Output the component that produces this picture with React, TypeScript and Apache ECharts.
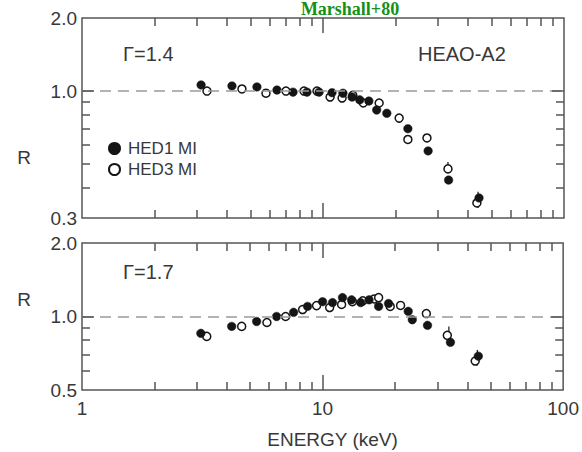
import React, { useEffect, useRef } from "react";
import * as echarts from "echarts";

// ---- data (energy keV, ratio R) ----
const hed1Top: number[][] = [
  [3.12, 1.06], [4.19, 1.05], [5.32, 1.04], [6.44, 1.01], [7.51, 0.99], [8.58, 0.99],
  [9.63, 0.99], [10.9, 0.985], [12.1, 0.98], [13.2, 0.945], [14.2, 0.92], [15.5, 0.91],
  [16.7, 0.836], [18.4, 0.81], [22.5, 0.70], [27.3, 0.567], [33.2, 0.43], [44.4, 0.363],
];
const hed3Top: number[][] = [
  [3.30, 1.0], [4.61, 1.02], [5.80, 0.98], [7.02, 1.0], [8.34, 1.0], [9.44, 1.0],
  [10.7, 0.945], [12.0, 0.936], [13.3, 0.96], [14.7, 0.893], [17.1, 0.893], [20.7, 0.774],
  [22.5, 0.632], [27.0, 0.641], [33.0, 0.478], [43.5, 0.346],
];
const hed1Bot: number[][] = [
  [3.12, 0.853], [4.19, 0.911], [5.32, 0.954], [6.44, 1.0], [7.58, 1.04], [8.66, 1.1],
  [10.0, 1.15], [11.0, 1.14], [12.1, 1.195], [13.2, 1.17], [14.4, 1.14], [15.6, 1.17],
  [17.1, 1.1], [18.8, 1.13], [22.7, 1.05], [23.6, 0.97], [27.3, 0.92], [34.0, 0.784], [44.4, 0.688],
];
const hed3Bot: number[][] = [
  [3.30, 0.829], [4.61, 0.911], [5.87, 0.945], [7.02, 1.0], [8.26, 1.068], [9.44, 1.108],
  [10.7, 1.088], [12.0, 1.12], [13.3, 1.15], [14.7, 1.16], [16.4, 1.18], [17.1, 1.195],
  [19.1, 1.1], [21.1, 1.11], [27.0, 1.028], [33.0, 0.837], [43.1, 0.657],
];
// error bars: [E, low, high]
const errTop: number[][] = [[33.0, 0.47, 0.51], [44.0, 0.33, 0.385]];
const errBot: number[][] = [[33.5, 0.77, 0.91], [44.0, 0.63, 0.73]];

// axis ranges & ticks
const xRange = [1, 100];
const yTopRange = [0.3, 2];
const yBotRange = [0.5, 2];
const xMinorTicks = [2, 3, 4, 5, 6, 7, 8, 9, 20, 30, 40, 50, 60, 70, 80, 90];
const xMajorTicks = [10];
const yTopMinorTicks = [0.4, 0.5, 0.6, 0.7, 0.8, 0.9];
const yBotMinorTicks = [0.6, 0.7, 0.8, 0.9];
const yMajorTicks = [1];

// layout
const GRID_LEFT = 82;
const GRID_W = 482;
const TOP_GRID = { top: 18, height: 200 };
const BOT_GRID = { top: 243, height: 147 };

const FONT = "'Liberation Sans', Arial, Helvetica, sans-serif";
const AXIS_COLOR = "#555";
const TEXT_COLOR = "#383838";

// multiplicative step on a log axis that corresponds to `px` pixels
function logStep(px: number, range: number[], sizePx: number) {
  return Math.pow(10, (px * Math.log10(range[1] / range[0])) / sizePx);
}
// a hair inside the axis ends, so that marker filtering keeps the segment
const EDGE_IN = 1.0008;

// tick marks as markLine segments in data coordinates (inward ticks on all 4 edges)
function tickLines(yr: number[], yMinor: number[], gridH: number) {
  const segs: any[] = [];
  const xTickLen = (v: number) => (xMajorTicks.indexOf(v) >= 0 ? 15 : 8);
  const yTickLen = (v: number) => (yMajorTicks.indexOf(v) >= 0 ? 12 : 8);
  const yLo = yr[0] * EDGE_IN;
  const yHi = yr[1] / EDGE_IN;
  const xLo = xRange[0] * EDGE_IN;
  const xHi = xRange[1] / EDGE_IN;
  [...xMinorTicks, ...xMajorTicks].forEach((v) => {
    const f = logStep(xTickLen(v), yr, gridH);
    segs.push([{ coord: [v, yLo] }, { coord: [v, yr[0] * f] }]);
    segs.push([{ coord: [v, yHi] }, { coord: [v, yr[1] / f] }]);
  });
  [...yMinor, ...yMajorTicks].forEach((v) => {
    const f = logStep(yTickLen(v), xRange, GRID_W);
    segs.push([{ coord: [xLo, v] }, { coord: [xRange[0] * f, v] }]);
    segs.push([{ coord: [xHi, v] }, { coord: [xRange[1] / f, v] }]);
  });
  return {
    silent: true,
    symbol: ["none", "none"],
    label: { show: false },
    lineStyle: { color: AXIS_COLOR, type: "solid", width: 1.5 },
    emphasis: { disabled: true },
    data: segs,
  };
}

function errSeries(gridIdx: number, data: number[][]) {
  return {
    type: "custom",
    xAxisIndex: gridIdx,
    yAxisIndex: gridIdx,
    coordinateSystem: "cartesian2d",
    encode: { x: 0, y: [1, 2] },
    silent: true,
    z: 3,
    data,
    renderItem: (params: any, api: any) => {
      const e = api.value(0);
      const lo = api.coord([e, api.value(1)]);
      const hi = api.coord([e, api.value(2)]);
      return {
        type: "line",
        shape: { x1: lo[0], y1: lo[1], x2: hi[0], y2: hi[1] },
        style: { stroke: "#222", lineWidth: 1.3 },
      };
    },
  };
}

const refLine = {
  silent: true,
  symbol: ["none", "none"],
  label: { show: false },
  lineStyle: { color: "#9a9a9a", type: [11, 7], width: 1.6 },
  data: [{ yAxis: 1 }],
};

function scatter(name: string, gridIdx: number, data: number[][], open: boolean, markLine: any) {
  return {
    type: "scatter",
    name,
    xAxisIndex: gridIdx,
    yAxisIndex: gridIdx,
    data,
    symbol: "circle",
    symbolSize: open ? 8 : 8.5,
    z: 4,
    itemStyle: open
      ? { color: "#fff", borderColor: "#151515", borderWidth: 1.5, opacity: 1 }
      : { color: "#151515", borderColor: "#151515", borderWidth: 0.5, opacity: 1 },
    markLine,
  };
}

const yLabel = {
  fontSize: 19,
  color: TEXT_COLOR,
  fontFamily: FONT,
  margin: 5,
  showMinLabel: true,
  showMaxLabel: true,
  formatter: (v: number) => v.toFixed(1),
};

export default function App() {
  const ref = useRef<HTMLDivElement>(null);
  useEffect(() => {
    if (!ref.current) return;
    const chart = echarts.init(ref.current, undefined, { renderer: "svg" });
    const option: any = {
      animation: false,
      backgroundColor: "#fff",
      grid: [
        { left: GRID_LEFT, top: TOP_GRID.top, width: GRID_W, height: TOP_GRID.height, show: true, borderColor: AXIS_COLOR, borderWidth: 1.5 },
        { left: GRID_LEFT, top: BOT_GRID.top, width: GRID_W, height: BOT_GRID.height, show: true, borderColor: AXIS_COLOR, borderWidth: 1.5 },
      ],
      xAxis: [
        {
          type: "log", logBase: 10, gridIndex: 0, min: xRange[0], max: xRange[1],
          axisLine: { show: false }, axisTick: { show: false }, splitLine: { show: false },
          axisLabel: { show: false },
        },
        {
          type: "log", logBase: 10, gridIndex: 1, min: xRange[0], max: xRange[1],
          axisLine: { show: false }, axisTick: { show: false }, splitLine: { show: false },
          axisLabel: {
            fontSize: 19, color: TEXT_COLOR, fontFamily: FONT, margin: 9,
            showMinLabel: true, showMaxLabel: true,
            formatter: (v: number) => String(Math.round(v)),
          },
          name: "ENERGY (keV)",
          nameLocation: "middle",
          nameGap: 40,
          nameTextStyle: { fontSize: 19, color: TEXT_COLOR, fontFamily: FONT, padding: [0, 0, 0, 20] },
        },
      ],
      yAxis: [
        {
          type: "log", logBase: 10, gridIndex: 0, min: yTopRange[0], max: yTopRange[1],
          axisLine: { show: false }, axisTick: { show: false }, splitLine: { show: false },
          axisLabel: yLabel,
        },
        {
          type: "log", logBase: 10, gridIndex: 1, min: yBotRange[0], max: yBotRange[1],
          axisLine: { show: false }, axisTick: { show: false }, splitLine: { show: false },
          axisLabel: yLabel,
        },
      ],
      legend: {
        data: [{ name: "HED1 MI" }, { name: "HED3 MI" }],
        orient: "vertical",
        left: 103,
        top: 135,
        itemWidth: 11,
        itemHeight: 11,
        itemGap: 4,
        selectedMode: false,
        textStyle: { fontSize: 17, color: TEXT_COLOR, fontFamily: FONT, padding: [0, 0, 0, 3] },
      },
      graphic: [
        {
          type: "text", x: 350, y: 0,
          style: {
            text: "Marshall+80", fill: "#178f17", align: "center", verticalAlign: "top",
            font: "bold 18px 'Liberation Serif', 'Times New Roman', serif",
          },
        },
        { type: "text", x: 123, y: 44, style: { text: "Γ=1.4", fill: TEXT_COLOR, font: `20px ${FONT}` } },
        { type: "text", x: 418, y: 44, style: { text: "HEAO-A2", fill: TEXT_COLOR, font: `20px ${FONT}` } },
        { type: "text", x: 123, y: 262, style: { text: "Γ=1.7", fill: TEXT_COLOR, font: `20px ${FONT}` } },
        { type: "text", x: 24, y: 157, style: { text: "R", fill: TEXT_COLOR, font: `19px ${FONT}`, align: "center", verticalAlign: "middle" } },
        { type: "text", x: 24, y: 299, style: { text: "R", fill: TEXT_COLOR, font: `19px ${FONT}`, align: "center", verticalAlign: "middle" } },
      ],
      series: [
        errSeries(0, errTop),
        errSeries(1, errBot),
        scatter("HED3 MI", 0, hed3Top, true, refLine),
        scatter("HED1 MI", 0, hed1Top, false, tickLines(yTopRange, yTopMinorTicks, TOP_GRID.height)),
        scatter("HED3 MI", 1, hed3Bot, true, refLine),
        scatter("HED1 MI", 1, hed1Bot, false, tickLines(yBotRange, yBotMinorTicks, BOT_GRID.height)),
      ],
    };
    chart.setOption(option);
    return () => chart.dispose();
  }, []);
  return (
    <div
      ref={ref}
      style={{ position: "fixed", left: 0, top: 0, width: 582, height: 452, background: "#fff" }}
    />
  );
}
